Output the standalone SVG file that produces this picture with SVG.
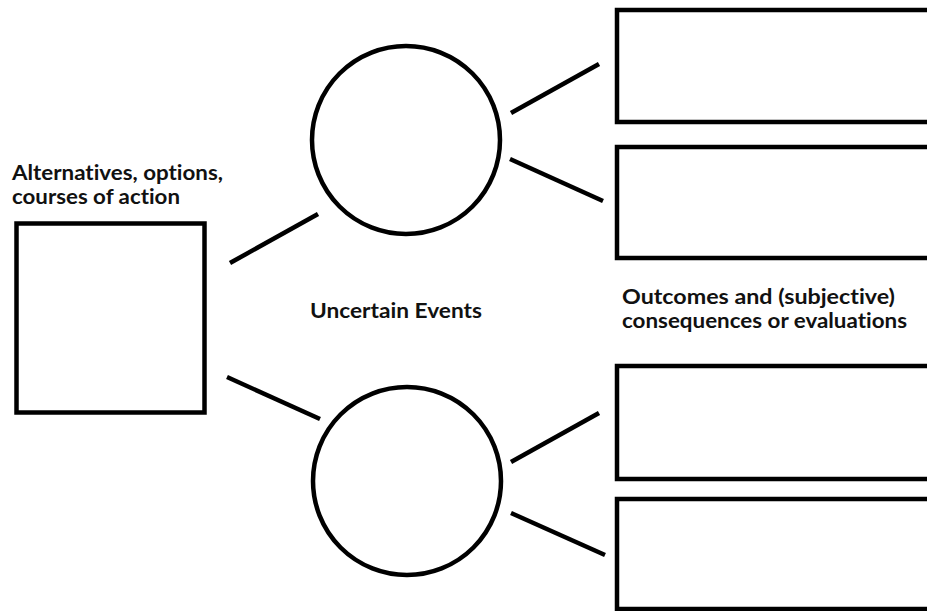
<svg xmlns="http://www.w3.org/2000/svg" width="927" height="611" viewBox="0 0 927 611">
  <style>
    .shape { fill: #ffffff; stroke: #000000; stroke-width: 4.5; }
    .link { stroke: #000000; stroke-width: 4.5; stroke-linecap: butt; fill: none; }
    .label { font-family: Lato, "Open Sans", "Liberation Sans", sans-serif; font-weight: 700; font-size: 20px; fill: #111111; font-variant-ligatures: none; }
  </style>
  <rect width="927" height="611" fill="#ffffff"/>

  <!-- decision node -->
  <g id="decision">
    <rect class="shape" x="16.5" y="223.5" width="188" height="189"/>
  </g>

  <!-- chance nodes -->
  <g id="chance-top">
    <circle class="shape" cx="406" cy="140" r="94"/>
  </g>
  <g id="chance-bottom">
    <circle class="shape" cx="407" cy="481" r="94"/>
  </g>

  <!-- outcome boxes, running off the right edge -->
  <g id="outcome-1">
    <rect class="shape" x="617" y="10" width="330" height="112"/>
  </g>
  <g id="outcome-2">
    <rect class="shape" x="617" y="147" width="330" height="111"/>
  </g>
  <g id="outcome-3">
    <rect class="shape" x="617" y="366" width="330" height="113"/>
  </g>
  <g id="outcome-4">
    <rect class="shape" x="617" y="499" width="330" height="110"/>
  </g>

  <!-- connectors -->
  <g id="connectors">
    <line class="link" x1="230" y1="263" x2="318" y2="214"/>
    <line class="link" x1="227" y1="377" x2="320" y2="419"/>
    <line class="link" x1="511" y1="113" x2="599" y2="64"/>
    <line class="link" x1="510" y1="159" x2="603" y2="201"/>
    <line class="link" x1="511" y1="462" x2="599" y2="413"/>
    <line class="link" x1="511" y1="513" x2="605" y2="555"/>
  </g>

  <!-- labels -->
  <g id="labels">
    <text class="label" x="12" y="180" textLength="211" lengthAdjust="spacingAndGlyphs">Alternatives, options,</text>
    <text class="label" x="12" y="204" textLength="168" lengthAdjust="spacingAndGlyphs">courses of action</text>
    <text class="label" x="310" y="318" textLength="172" lengthAdjust="spacingAndGlyphs">Uncertain Events</text>
    <text class="label" x="622" y="304" textLength="273" lengthAdjust="spacingAndGlyphs">Outcomes and (subjective)</text>
    <text class="label" x="622" y="328" textLength="285" lengthAdjust="spacingAndGlyphs">consequences or evaluations</text>
  </g>
</svg>
